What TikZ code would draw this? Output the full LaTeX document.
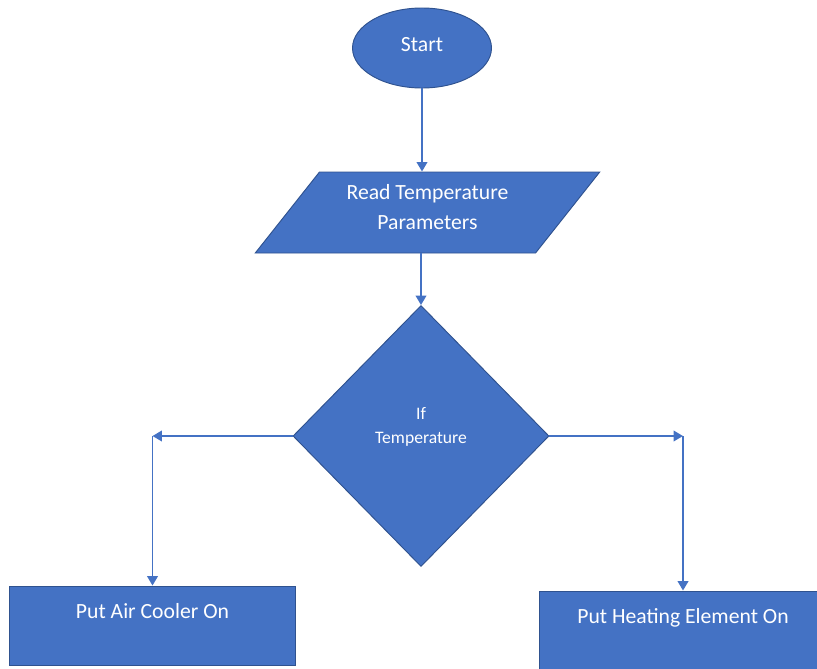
\documentclass[tikz,border=0pt]{standalone}
\usepackage{xcolor}
\usepackage{tikz}
\usepackage{fontspec}
\setmainfont{Carlito}
\usetikzlibrary{shapes.geometric, arrows.meta, positioning, calc}
\definecolor{flowblue}{HTML}{4472C4}
\definecolor{flowblueline}{HTML}{2F528F}
\definecolor{flowarrow}{HTML}{4472C4}

\begin{document}
\begin{tikzpicture}[
  x=0.03cm, y=-0.03cm,
  flowshape/.style={draw=flowblueline, fill=flowblue, text=white, line width=0.8pt, inner sep=1pt, align=center, font=\fontsize{18.5}{25.6}\selectfont},
  terminal/.style={flowshape, ellipse, minimum width=4.17cm, minimum height=2.4cm, text height=13pt, text depth=7pt},
  io/.style={flowshape, trapezium, trapezium left angle=50, trapezium right angle=130, trapezium stretches=true, minimum width=10.35cm, minimum height=2.43cm, text height=38.6pt, text depth=9pt},
  decision/.style={flowshape, diamond, minimum width=7.68cm, minimum height=7.83cm, font=\fontsize{15}{21}\selectfont, text height=31.5pt, text depth=18.5pt},
  action/.style={flowshape, rectangle, minimum width=8.6cm, minimum height=2.37cm, text height=0.4cm, text depth=0.8cm},
  flow/.style={draw=flowarrow, line width=1.6pt, -{Triangle[width=9pt, length=8pt]}}
]
\useasboundingbox (0,0) rectangle (817,668);
\clip (0,0) rectangle (817,668);

\node[terminal] (start) at (422,48) {Start};
\node[io] (read) at (427.5,212.5) {Read Temperature\\Parameters};
\node[decision] (check) at (421,436) {If\\Temperature};
\node[action] (cool) at (152.5,625.5) {Put Air Cooler On};
\node[action] (heat) at (683,630.5) {Put Heating Element On};

\coordinate (coolturn) at (cool.north |- check.west);
\coordinate (heatturn) at (heat.north |- check.east);

\draw[flow] (start.south) -- (start.south |- read.north);
\draw[flow] (check.north |- read.south) -- (check.north);
\draw[flow] (check.west) -- (coolturn);
\draw[flow] (coolturn) -- (cool.north);
\draw[flow] (check.east) -- (heatturn);
\draw[flow] (heatturn) -- (heat.north);
\end{tikzpicture}
\end{document}
